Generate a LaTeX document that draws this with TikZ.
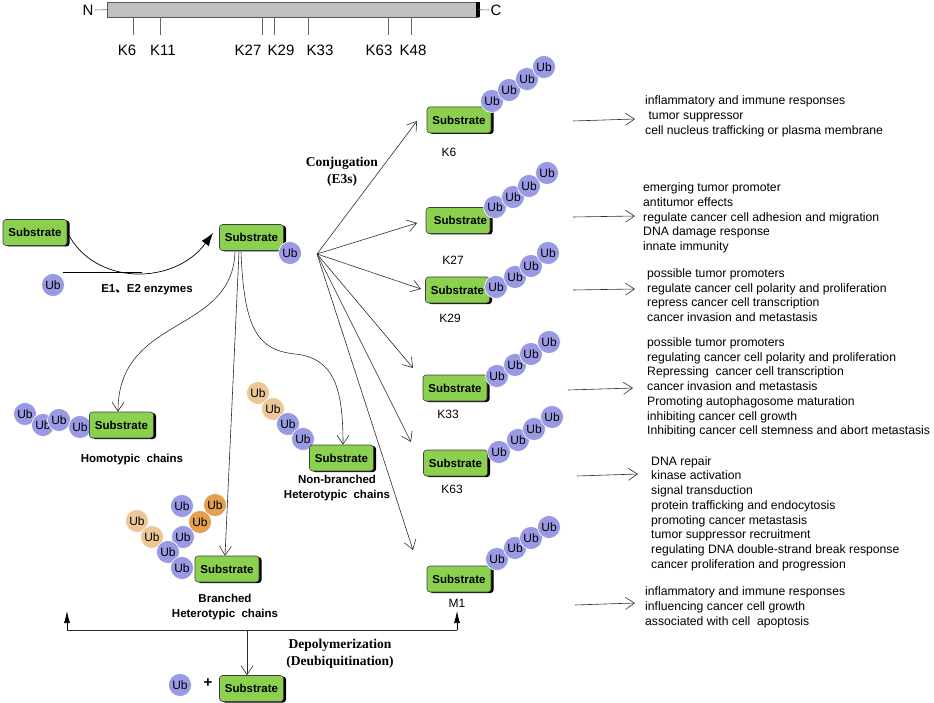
\documentclass[tikz,border=0pt]{standalone}
\usepackage{fontspec}
\setmainfont{Liberation Sans}
\newfontfamily\serifb{Liberation Serif}
\newfontfamily\cjk{Noto Sans CJK SC}
\usetikzlibrary{shadows,arrows.meta}
\definecolor{subgreen}{RGB}{140,208,80}
\definecolor{ubblue}{RGB}{153,153,228}
\definecolor{ubtan}{RGB}{236,200,152}
\definecolor{uborange}{RGB}{226,160,80}
\definecolor{bargray}{RGB}{192,192,192}
\definecolor{linegray}{RGB}{45,45,45}
\tikzset{
 sub/.style={draw=black!75, line width=0.6pt, fill=subgreen, rounded corners=3pt,
   minimum width=64pt, minimum height=26pt, inner sep=0pt,
   font=\fontsize{11.5}{12}\selectfont\bfseries,
   drop shadow={shadow xshift=2.5pt, shadow yshift=-1pt, fill=black, opacity=1}},
 ub/.style={circle, fill=ubblue, draw=white, line width=0.6pt, minimum size=23pt,
   inner sep=0pt, font=\fontsize{12}{12}\selectfont},
 ubt/.style={ub, fill=ubtan},
 ubo/.style={ub, fill=uborange},
 func/.style={align=left, anchor=west, inner sep=0pt, font=\fontsize{12.2}{14.7}\selectfont},
 lab/.style={font=\fontsize{12}{12}\selectfont},
 toplab/.style={font=\fontsize{15}{16}\selectfont, inner sep=1pt},
 blab/.style={font=\fontsize{11.5}{15}\selectfont\bfseries, align=center},
 slab/.style={font=\serifb\fontsize{13.5}{17}\selectfont\bfseries, align=center},
 thin/.style={draw=linegray, line width=0.6pt},
 openarr/.style={thin, -{Straight Barb[length=9pt,width=12pt]}},
 fillarr/.style={draw=black, line width=0.7pt, -{Latex[length=13pt,width=9pt]}},
 deparr/.style={draw=black, line width=0.7pt, -{Latex[length=12pt,width=6pt]}},
 tick/.style={draw=black!60, line width=0.6pt}
}
\begin{document}
\begin{tikzpicture}[x=1pt,y=-1pt]
\useasboundingbox (0,0) rectangle (934,703);
% ---------- protein bar ----------
\node[draw=black!65, fill=bargray, minimum width=371pt, minimum height=15pt, inner sep=0pt, anchor=north west] (bar) at (107,2) {};
\fill[black] (476,2) rectangle (479.5,17);
\node[toplab] (N) at (88,10) {N};
\node[toplab] (C) at (496,10) {C};
\draw[tick] (N.east) -- (bar.west);
\draw[tick] (bar.east) -- (C.west);
\foreach \t/\lx/\l in {133/127/K6, 160/163/K11, 262/248/K27, 274/281/K29, 308/320/K33, 388/379/K63, 411/413/K48}{
  \draw[tick] (\t,17) -- (\t,35);
  \node[toplab] (top\l) at (\lx,50) {\l};
}
% ---------- E1/E2 step ----------
\node[sub] (s0) at (35,232.5) {Substrate};
\node[ub] (u0) at (53,285) {Ub};
\node[sub] (sc) at (251.5,237.5) {Substrate};
\node[ub] (uc) at (290,253) {Ub};
\coordinate (c0) at (213,233);
\coordinate (ul) at (63,272);
\coordinate (um) at (142,272);
\draw[fillarr] (s0.east) .. controls (95,287) and (175,285) .. (c0);
\draw[draw=black, line width=0.6pt] (ul) -- (um);
\node[blab] (e12) at (147,290) {E1{\cjk 、}E2 enzymes};
% ---------- chain types ----------
\node[ub] at (25,414) {Ub};
\node[ub] at (43,425) {Ub};
\node[ub] at (59,420) {Ub};
\node[ub] at (80,427) {Ub};
\node[sub] (sh) at (121.5,425) {Substrate};
\node[blab] (lh) at (132,460) {Homotypic\ \ chains};

\node[ubt] at (258,393) {Ub};
\node[ubt] at (273,409) {Ub};
\node[ub] at (288,424) {Ub};
\node[ub] at (303,439) {Ub};
\node[sub] (sn) at (341.5,458) {Substrate};
\node[blab] (ln) at (337,488) {Non-branched\\Heterotypic\ \ chains};

\node[ubt] at (137,521) {Ub};
\node[ubt] at (152,537) {Ub};
\node[ub] at (182,506) {Ub};
\node[ubo] at (215,505) {Ub};
\node[ubo] at (200,522) {Ub};
\node[ub] at (183,537) {Ub};
\node[ub] at (168,552) {Ub};
\node[ub] at (182,568) {Ub};
\node[sub] (sb) at (227,569) {Substrate};
\node[blab] (lb) at (225,607) {Branched\\Heterotypic\ \ chains};

\coordinate (dh) at (235,252);
\coordinate (dm) at (239,252);
\coordinate (dn) at (241,252);
\draw[openarr] (dh) .. controls (232,335) and (118,315) .. (sh.north -| 118,0);
\draw[openarr] (dm) -- (sb.north -| 225,0);
\draw[openarr] (dn) .. controls (244,330) and (258,350) .. (295,354) .. controls (335,358) and (343,390) .. (sn.north -| 343,0);

% ---------- conjugation fan ----------
\node[slab] (conj) at (342,171.5) {Conjugation\\(E3s)};
\coordinate (fan) at (317,254);

\node[sub] (k6) at (459,120) {Substrate};
\node[ub] at (492,101) {Ub};
\node[ub] at (509,90) {Ub};
\node[ub] at (527,79) {Ub};
\node[ub] at (544,67) {Ub};
\node[lab] (l6) at (449,152) {K6};

\node[sub] (k27) at (458,220.5) {\hspace*{5pt}Substrate};
\node[ub] at (495,207) {Ub};
\node[ub] at (513,197) {Ub};
\node[ub] at (529,186) {Ub};
\node[ub] at (547,173) {Ub};
\node[lab] (l27) at (453,260) {K27};

\node[sub] (k29) at (457.5,290) {Substrate};
\node[ub] at (496,287) {Ub};
\node[ub] at (515,277) {Ub};
\node[ub] at (531,266) {Ub};
\node[ub] at (548,253) {Ub};
\node[lab] (l29) at (450,318) {K29};

\node[sub] (k33) at (455,388) {Substrate};
\node[ub] at (497,376) {Ub};
\node[ub] at (515,365) {Ub};
\node[ub] at (531,354) {Ub};
\node[ub] at (549,342) {Ub};
\node[lab] (l33) at (448,414) {K33};

\node[sub] (k63) at (455.5,463) {Substrate};
\node[ub] at (499,452) {Ub};
\node[ub] at (518,440) {Ub};
\node[ub] at (534,429) {Ub};
\node[ub] at (552,417) {Ub};
\node[lab] (l63) at (452,489) {K63};

\node[sub] (m1) at (459,579) {Substrate};
\node[ub] at (497,559) {Ub};
\node[ub] at (515,548) {Ub};
\node[ub] at (531,538) {Ub};
\node[ub] at (549,527) {Ub};
\node[lab] (lm1) at (457,603) {M1};

\coordinate (t6) at (417,121);
\coordinate (t27) at (417,223);
\coordinate (t29) at (421,289);
\coordinate (t33) at (413,368);
\coordinate (t63) at (411,442);
\coordinate (tm1) at (413,550);
\foreach \t in {t6,t27,t29,t33,t63,tm1}{\draw[openarr] (fan) -- (\t);}

% ---------- functions ----------
\node[func] (f6) at (645,116.5) {inflammatory and immune responses\\\ tumor suppressor\\cell nucleus trafficking or plasma membrane};
\node[func] (f27) at (643,218) {emerging tumor promoter\\antitumor effects\\regulate cancer cell adhesion and migration\\DNA damage response\\innate immunity};
\node[func] (f29) at (647,295) {possible tumor promoters\\regulate cancer cell polarity and proliferation\\repress cancer cell transcription\\cancer invasion and metastasis};
\node[func] (f33) at (647,387.5) {possible tumor promoters\\regulating cancer cell polarity and proliferation\\Repressing\ \ cancer cell transcription\\cancer invasion and metastasis\\Promoting autophagosome maturation\\inhibiting cancer cell growth\\Inhibiting cancer cell stemness and abort metastasis};
\node[func] (f63) at (651,513.5) {DNA repair\\kinase activation\\signal transduction\\protein trafficking and endocytosis\\promoting cancer metastasis\\tumor suppressor recruitment\\regulating DNA double-strand break response\\cancer proliferation and progression};
\node[func] (fm1) at (645,607.5) {inflammatory and immune responses\\influencing cancer cell growth\\associated with cell\ \ apoptosis};

\coordinate (a6) at (573,121);   \coordinate (b6) at (635,119);
\coordinate (a27) at (573,217);  \coordinate (b27) at (635,216);
\coordinate (a29) at (573,290);  \coordinate (b29) at (635,289);
\coordinate (a33) at (568,390);  \coordinate (b33) at (633,388);
\coordinate (a63) at (577,476);  \coordinate (b63) at (638,474);
\coordinate (am1) at (575,605);  \coordinate (bm1) at (635,603);
\foreach \k in {6,27,29,33,63,m1}{\draw[openarr] (a\k) -- (b\k);}

% ---------- depolymerization ----------
\coordinate (dl) at (67,630);
\coordinate (dr) at (457,630);
\coordinate (dlt) at (67,611);
\coordinate (drt) at (457,611);
\coordinate (dd) at (247,630);
\draw[thin] (dl) -- (dr);
\draw[deparr] (dl) -- (dlt);
\draw[deparr] (dr) -- (drt);
\node[slab] (dep) at (340,653.5) {Depolymerization\\(Deubiquitination)};
\node[ub] (ufree) at (180,685) {Ub};
\node[font=\fontsize{15}{16}\selectfont\bfseries] (plus) at (208,683) {+};
\node[sub] (sfree) at (251.5,688.5) {Substrate};
\draw[openarr] (dd) -- (sfree.north -| 247,0);
\end{tikzpicture}
\end{document}
